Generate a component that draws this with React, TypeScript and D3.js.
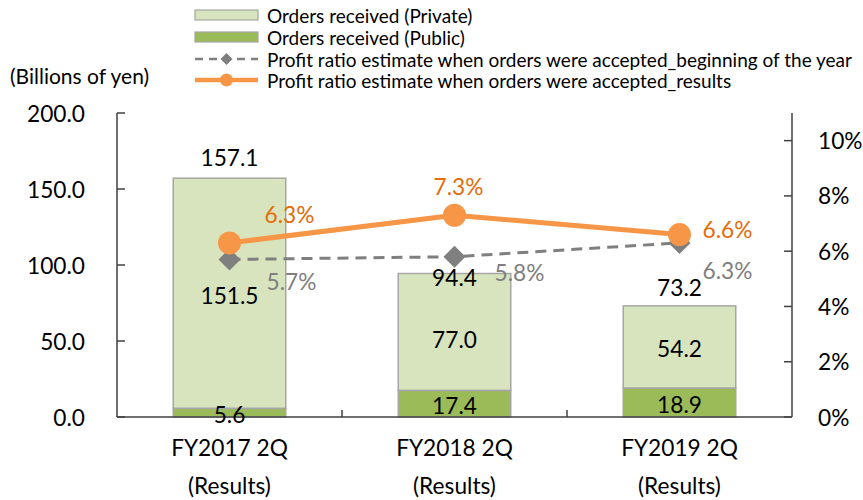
import React from "react";
import * as d3 from "d3";

const categories = ["FY2017 2Q", "FY2018 2Q", "FY2019 2Q"];
const categorySub = ["(Results)", "(Results)", "(Results)"];
const publicOrders = [5.6, 17.4, 18.9];
const privateOrders = [151.5, 77.0, 54.2];
const totals = [157.1, 94.4, 73.2];
const ratioBeginning = [5.7, 5.8, 6.3];
const ratioResults = [6.3, 7.3, 6.6];
const leftTicks = [0, 50, 100, 150, 200];
const rightTicks = [0, 2, 4, 6, 8, 10];
const legendLabels = [
  "Orders received (Private)",
  "Orders received (Public)",
  "Profit ratio estimate when orders were accepted_beginning of the year",
  "Profit ratio estimate when orders were accepted_results",
];

const W = 863;
const H = 500;
const FONT = "Lato, Carlito, Calibri, sans-serif";
const NUM = 22.7;

// label layout offsets (pixels)
const totalDy = [-21, 4, -18];
const privateDy = [2, 7, 1];
const resultsOff = [
  [60, -28],
  [4, -29],
  [48, -5],
];
const beginOff = [
  [62, 22],
  [65, 16],
  [48, 28],
];

export default function App() {
  const left = 117;
  const right = 792;
  const top = 113;
  const bottom = 417;
  const x = d3
    .scaleBand<string>()
    .domain(categories)
    .range([left, right])
    .paddingInner(0.5)
    .paddingOuter(0.25);
  const yL = d3.scaleLinear().domain([0, 200]).range([bottom, top]);
  const yR = d3.scaleLinear().domain([0, 11]).range([bottom, top]);
  const cx = (c: string) => (x(c) as number) + x.bandwidth() / 2;
  const step = x.step();

  const lineGen = d3
    .line<number>()
    .x((_, i) => cx(categories[i]))
    .y((d) => yR(d));

  const axisColor = "#404040";
  const orange = "#f79646";
  const orangeText = "#e46c0a";
  const gray = "#7f7f7f";
  const privFill = "#d7e4bd";
  const pubFill = "#9bbb59";
  const barStroke = "#a6a6a6";

  const diamond = (px: number, py: number, r: number) =>
    `M${px},${py - r}L${px + r},${py}L${px},${py + r}L${px - r},${py}Z`;

  const legendRows = [15, 37, 59, 80];
  const lx0 = 195;
  const lx1 = 258;
  const lmid = (lx0 + lx1) / 2;
  const ltx = 267;

  return (
    <svg
      width={W}
      height={H}
      style={{ position: "absolute", left: 0, top: 0, display: "block", background: "#fff" }}
      fontFamily={FONT}
    >
      {/* Legend */}
      <text x={10} y={75} fontSize={21} dominantBaseline="central" fill="#000">
        (Billions of yen)
      </text>
      <rect x={lx0} y={legendRows[0] - 5} width={lx1 - lx0} height={10} fill={privFill} stroke={barStroke} strokeWidth={1.2} />
      <rect x={lx0} y={legendRows[1] - 5} width={lx1 - lx0} height={10} fill={pubFill} stroke={barStroke} strokeWidth={1.2} />
      <line x1={lx0} x2={lx1} y1={legendRows[2]} y2={legendRows[2]} stroke={gray} strokeWidth={2.5} strokeDasharray="8,6" />
      <path d={diamond(lmid, legendRows[2], 6)} fill={gray} />
      <line x1={lx0} x2={lx1} y1={legendRows[3]} y2={legendRows[3]} stroke={orange} strokeWidth={4.5} />
      <circle cx={lmid} cy={legendRows[3]} r={6.5} fill={orange} />
      {legendLabels.map((t, i) => (
        <text key={t} x={ltx} y={legendRows[i]} fontSize={19} dominantBaseline="central" fill="#000">
          {t}
        </text>
      ))}

      {/* Bars */}
      {categories.map((c, i) => {
        const bx = x(c) as number;
        const bw = x.bandwidth();
        return (
          <g key={c}>
            <rect
              x={bx}
              y={yL(publicOrders[i] + privateOrders[i])}
              width={bw}
              height={yL(publicOrders[i]) - yL(publicOrders[i] + privateOrders[i])}
              fill={privFill}
              stroke={barStroke}
              strokeWidth={1.5}
            />
            <rect
              x={bx}
              y={yL(publicOrders[i])}
              width={bw}
              height={yL(0) - yL(publicOrders[i])}
              fill={pubFill}
              stroke={barStroke}
              strokeWidth={1.5}
            />
          </g>
        );
      })}

      {/* Axes */}
      <line x1={left} x2={left} y1={top} y2={bottom} stroke={axisColor} strokeWidth={1.5} />
      <line x1={right} x2={right} y1={top} y2={bottom} stroke={axisColor} strokeWidth={1.5} />
      <line x1={left} x2={right} y1={bottom} y2={bottom} stroke={axisColor} strokeWidth={1.5} />
      {leftTicks.map((t) => (
        <g key={"l" + t}>
          <line x1={left} x2={left + 8} y1={yL(t)} y2={yL(t)} stroke={axisColor} strokeWidth={1.5} />
          <text x={85} y={yL(t)} fontSize={NUM} textAnchor="end" dominantBaseline="central" fill="#000">
            {d3.format(".1f")(t)}
          </text>
        </g>
      ))}
      {rightTicks.map((t) => (
        <g key={"r" + t}>
          <line x1={right - 8} x2={right} y1={yR(t)} y2={yR(t)} stroke={axisColor} strokeWidth={1.5} />
          <text x={818} y={yR(t)} fontSize={NUM} textAnchor="start" dominantBaseline="central" fill="#000">
            {t + "%"}
          </text>
        </g>
      ))}
      {categories.slice(1).map((c) => (
        <line
          key={"ct" + c}
          x1={(x(c) as number) - (step - x.bandwidth()) / 2}
          x2={(x(c) as number) - (step - x.bandwidth()) / 2}
          y1={bottom}
          y2={bottom - 7}
          stroke={axisColor}
          strokeWidth={1.5}
        />
      ))}
      {categories.map((c, i) => (
        <g key={"cl" + c}>
          <text x={cx(c)} y={447} fontSize={NUM} textAnchor="middle" dominantBaseline="central" fill="#000">
            {c}
          </text>
          <text x={cx(c)} y={485} fontSize={NUM} textAnchor="middle" dominantBaseline="central" fill="#000">
            {categorySub[i]}
          </text>
        </g>
      ))}

      {/* Bar labels */}
      {categories.map((c, i) => (
        <g key={"bl" + c}>
          <text
            x={cx(c)}
            y={(yL(publicOrders[i]) + yL(0)) / 2 + 2}
            fontSize={NUM}
            textAnchor="middle"
            dominantBaseline="central"
            fill="#000"
          >
            {d3.format(".1f")(publicOrders[i])}
          </text>
          <text
            x={cx(c)}
            y={(yL(publicOrders[i]) + yL(publicOrders[i] + privateOrders[i])) / 2 + privateDy[i]}
            fontSize={NUM}
            textAnchor="middle"
            dominantBaseline="central"
            fill="#000"
          >
            {d3.format(".1f")(privateOrders[i])}
          </text>
          <text
            x={cx(c)}
            y={yL(totals[i]) + totalDy[i]}
            fontSize={NUM}
            textAnchor="middle"
            dominantBaseline="central"
            fill="#000"
          >
            {d3.format(".1f")(totals[i])}
          </text>
        </g>
      ))}

      {/* Lines */}
      <path d={lineGen(ratioBeginning) || ""} fill="none" stroke={gray} strokeWidth={3} strokeDasharray="11,7" />
      {ratioBeginning.map((v, i) => (
        <path key={"dm" + i} d={diamond(cx(categories[i]), yR(v), 11)} fill={gray} />
      ))}
      <path d={lineGen(ratioResults) || ""} fill="none" stroke={orange} strokeWidth={5} />
      {ratioResults.map((v, i) => (
        <circle key={"oc" + i} cx={cx(categories[i])} cy={yR(v)} r={11.5} fill={orange} />
      ))}

      {/* Line labels */}
      {ratioBeginning.map((v, i) => (
        <text
          key={"bt" + i}
          x={cx(categories[i]) + beginOff[i][0]}
          y={yR(v) + beginOff[i][1]}
          fontSize={NUM}
          textAnchor="middle"
          dominantBaseline="central"
          fill={gray}
        >
          {d3.format(".1f")(v) + "%"}
        </text>
      ))}
      {ratioResults.map((v, i) => (
        <text
          key={"rt" + i}
          x={cx(categories[i]) + resultsOff[i][0]}
          y={yR(v) + resultsOff[i][1]}
          fontSize={NUM}
          textAnchor="middle"
          dominantBaseline="central"
          fill={orangeText}
        >
          {d3.format(".1f")(v) + "%"}
        </text>
      ))}
    </svg>
  );
}
